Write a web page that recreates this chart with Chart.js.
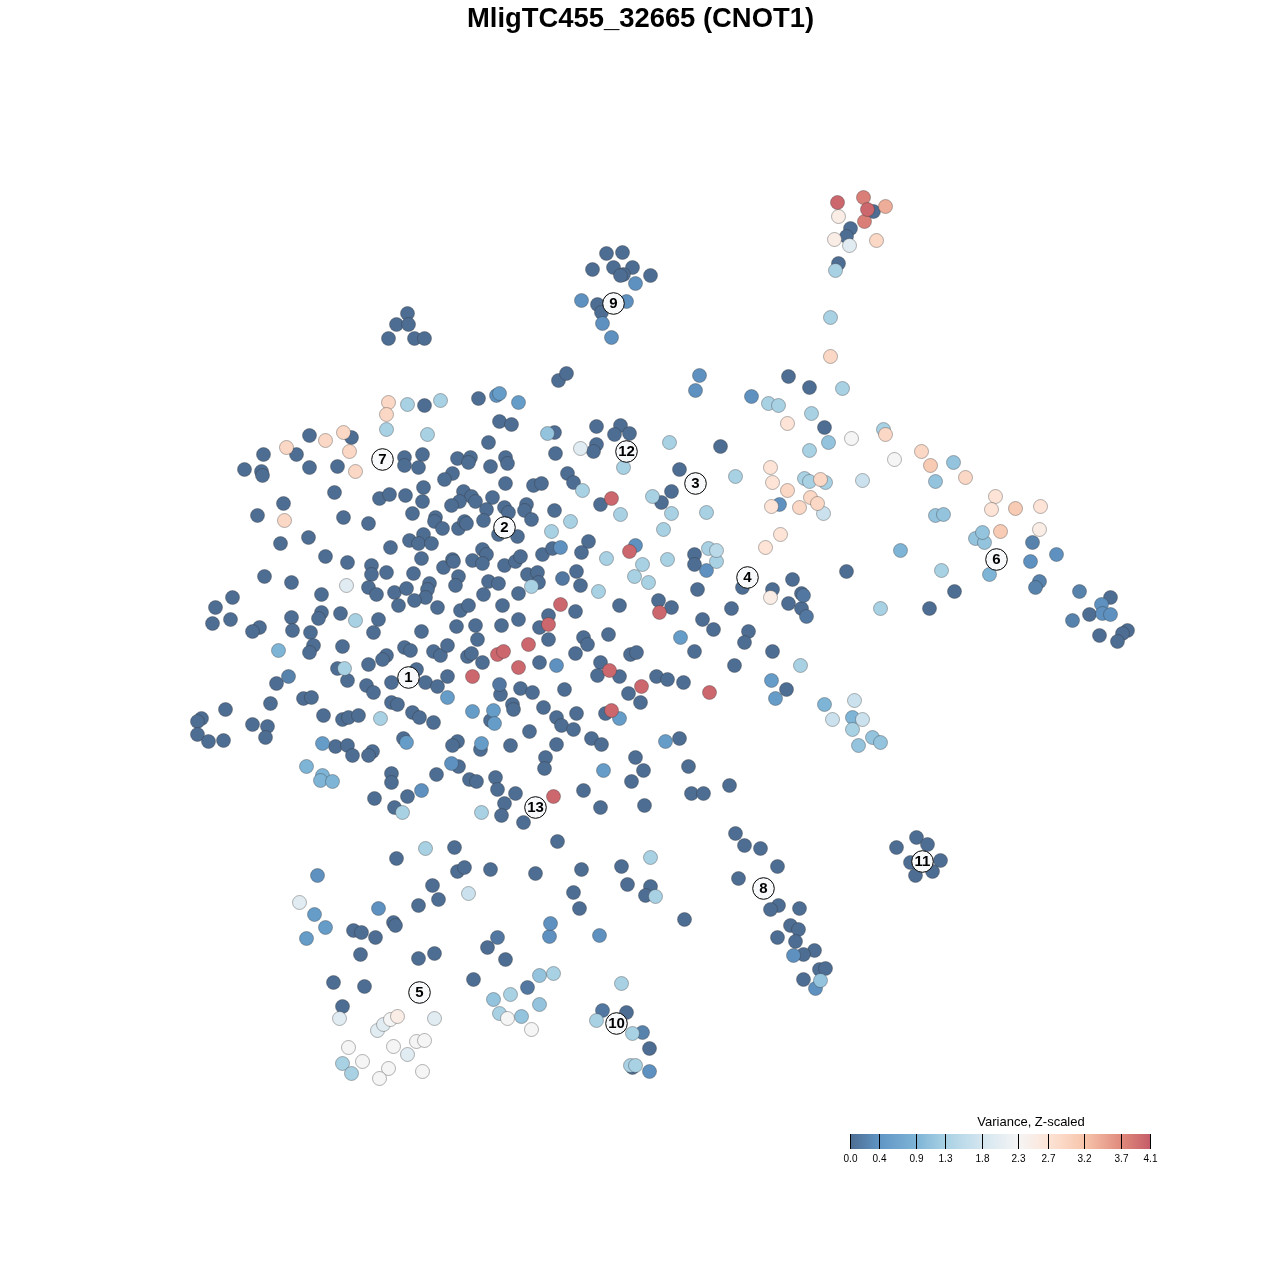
<!DOCTYPE html>
<html lang="en">
<head>
  <meta charset="UTF-8" />
  <title>MligTC455_32665 (CNOT1)</title>
  <script src="https://cdn.jsdelivr.net/npm/chart.js"></script>
  <style>
    html, body { margin: 0; padding: 0; background: #fff; }
    canvas { display: block; }
  </style>
</head>
<body>
  <canvas id="tsneChart" width="1280" height="1280"></canvas>

  <script>
    const chartTitle = 'MligTC455_32665 (CNOT1)';
    const legendTitle = 'Variance, Z-scaled';

    // legend ticks and colour ramp
    const legendTicks = [0.0, 0.4, 0.9, 1.3, 1.8, 2.3, 2.7, 3.2, 3.7, 4.1];
    const rampColors = ['#4d6d93', '#6096c5', '#7eb4d6', '#a9d1e4', '#d4e6f0', '#f5f5f5', '#fde4d7', '#f7c5ab', '#e08a7c', '#c55c69'];

    // cell positions, grouped by variance, lowest drawn first
    const var00 = [[407,313],[396,324],[408,324],[388,338],[414,338],[424,338],[606,253],[622,252],[592,269],[613,267],[632,267],[623,274],[620,275],[650,275],[597,304],[601,312],[558,380],[566,373],[873,211],[850,228],[846,236],[838,263],[788,376],[809,387],[824,427],
      [424,405],[478,398],[499,421],[511,424],[488,442],[309,435],[351,437],[296,454],[263,454],[244,469],[261,471],[262,475],[309,467],[337,466],[404,457],[404,465],[422,454],[418,467],[457,458],[470,457],[468,462],[490,466],[505,457],[507,463],[452,473],[444,479],[505,483],[334,492],[379,498],[389,494],[405,495],[423,487],[422,501],[463,491],[471,496],[459,501],[451,505],[475,501],[492,497],[504,507],[508,512],[486,509],[283,503],[257,515],[343,517],[368,523],[412,513],[435,517],[434,521],[442,528],[458,528],[464,521],[466,523],[483,520],[308,537],[280,543],[498,534],[409,540],[423,534],[418,543],[431,543],[390,547],[325,556],[347,562],[421,558],[371,565],[371,574],[386,572],[413,573],[443,567],[452,559],[453,561],[472,560],[482,549],[486,554],[482,563],[504,565],[264,576],[291,582],[458,576],[455,585],[488,581],[498,583],[368,587],[376,594],[394,592],[406,588],[429,583],[427,589],[425,597],[414,600],[398,605],[437,607],[483,594],[502,605],[460,610],[468,605],[321,594],[232,597],[215,607],[230,619],[212,623],[259,627],[252,631],[291,617],[292,630],[321,612],[318,618],[340,613],[378,619],[373,632],[310,632],[421,631],[456,626],[475,625],[501,625],[477,639],[313,645],[309,652],[342,646],[404,647],[410,650],[433,651],[440,655],[447,645],[386,655],[382,659],[467,656],[471,653],[482,662],[368,664],[337,668],[276,683],[347,680],[366,685],[373,692],[391,682],[416,669],[425,682],[437,686],[447,676],[500,694],[270,703],[303,698],[311,697],[225,709],[391,702],[397,704],[412,712],[419,717],[433,722],
      [554,432],[596,426],[620,425],[614,434],[629,433],[596,444],[593,451],[555,453],[720,446],[679,469],[533,485],[541,483],[567,473],[573,482],[526,504],[524,510],[554,510],[531,519],[517,536],[600,504],[671,491],[661,502],[515,561],[520,556],[542,554],[552,548],[588,541],[581,552],[694,554],[694,564],[527,574],[537,572],[538,582],[576,571],[580,585],[697,589],[742,587],[518,593],[575,611],[548,615],[539,627],[518,619],[548,639],[619,605],[658,600],[671,607],[702,619],[713,629],[731,608],[608,634],[583,637],[587,644],[575,653],[630,654],[636,652],[748,631],[744,642],[694,651],[734,665],[539,662],[600,662],[597,675],[619,676],[656,676],[667,679],[683,682],[520,688],[532,692],[564,689],[628,693],[640,702],[512,704],[513,709],[543,707],[556,717],[561,725],[576,713],[573,729],[529,731],[605,713],[490,720],
      [591,738],[601,744],[679,738],[556,744],[510,745],[480,749],[457,741],[452,745],[545,757],[544,768],[635,757],[643,770],[688,766],[631,781],[458,766],[469,779],[476,781],[495,777],[497,789],[515,793],[504,803],[501,815],[523,822],[583,790],[600,807],[644,805],[691,793],[703,793],[729,785],[557,841],[735,833],[744,845],[760,848],[454,847],[457,871],[464,867],[490,869],[535,873],[581,869],[621,866],
      [201,718],[197,721],[197,734],[208,741],[223,740],[252,724],[267,726],[265,737],[323,715],[342,719],[348,717],[358,715],[335,746],[347,745],[352,755],[372,751],[368,755],[403,738],[391,773],[391,782],[436,774],[407,796],[374,798],[394,807],[396,858],
      [353,930],[361,932],[375,937],[393,922],[395,925],[360,954],[418,905],[432,885],[438,899],[418,958],[434,953],[333,982],[364,986],[342,1006],[473,979],[487,947],[505,959],
      [573,892],[579,908],[627,884],[650,886],[645,895],[684,919],[738,878],[777,866],[778,905],[770,909],[799,908],[790,925],[798,929],[777,937],[795,941],[814,950],[803,954],[819,969],[825,968],[803,979],[626,1012],[649,1048],[632,1067],
      [954,591],[929,608],[846,571],[1110,597],[1089,614],[1099,635],[1127,630],[1122,633],[1117,641],[792,579],[772,589],[801,593],[788,603],[801,608],[772,651],[786,689],
      [896,847],[916,837],[927,844],[940,860],[910,862],[932,871],[915,875]];
    const var01 = [[499,684],[562,578],[803,595],[806,616],[527,987],[497,937],[602,1010]];
    const var02 = [[1032,542],[1039,581],[1035,587],[1079,591],[1072,620],[288,676],[642,1032]];
    const var035 = [[556,665],[560,547],[549,936],[550,923],[451,763],[421,790],[317,875],[378,908],[706,570],[1030,561],[1056,554],[1101,604],[1102,613],[1110,614],[635,545],[779,504],[695,390],[699,375],[751,396],[635,283],[581,300],[626,301],[602,323],[611,337],[649,1071],[815,988],[793,955],[599,935],[496,395]];
    const var05 = [[499,393],[518,402],[680,637],[406,742],[619,718],[603,770],[665,741],[314,914],[325,927],[306,938],[771,680],[775,698],[447,697],[472,711],[493,710],[494,723],[481,743],[322,743]];
    const var09 = [[278,650],[306,766],[322,775],[320,780],[332,781],[824,704],[852,717],[900,550],[989,574]];
    const var11 = [[547,433],[828,442],[935,481],[953,462],[935,515],[943,514],[975,538],[984,542],[982,532],[872,737],[880,742],[858,745],[493,999],[521,1016],[539,975],[539,1004],[820,980]];
    const var13 = [[407,404],[440,400],[386,429],[427,434],[355,620],[344,668],[380,718],[402,812],[481,812],[425,848],[582,490],[620,514],[623,467],[669,442],[735,476],[652,496],[671,513],[706,512],[663,529],[570,521],[551,531],[606,558],[708,548],[716,561],[642,564],[667,559],[634,576],[648,582],[598,591],[531,586],[842,388],[768,403],[778,405],[811,413],[883,429],[809,450],[804,478],[809,481],[825,482],[800,665],[852,729],[880,608],[941,570],[835,270],[830,317],[553,973],[510,994],[499,1013],[621,983],[596,1020],[632,1033],[630,1065],[635,1065],[342,1063],[351,1073],[650,857],[655,896]];
    const var15 = [[716,550]];
    const var17 = [[862,480],[823,513],[468,893],[854,700],[832,719],[862,719]];
    const var20 = [[580,448],[346,585],[434,1018],[377,1030],[383,1024],[407,1054],[339,1018],[299,902],[849,245]];
    const var23 = [[851,438],[894,459],[348,1047],[393,1046],[416,1041],[424,1040],[362,1061],[388,1068],[379,1078],[422,1071],[507,1018],[531,1029],[390,1019]];
    const var25 = [[397,1016],[1039,529],[838,216],[834,239],[770,597]];
    const var27 = [[787,423],[771,506],[780,534],[765,547],[995,496],[991,509],[1040,506],[770,467],[772,482]];
    const var29 = [[388,402],[386,414],[325,440],[343,432],[286,447],[349,451],[355,471],[284,520],[830,356],[885,434],[921,451],[965,477],[787,490],[820,479],[810,497],[817,503],[799,507],[876,240]];
    const var31 = [[930,465],[1015,508],[1000,531]];
    const var34 = [[885,206]];
    const var38 = [[863,197],[864,221]];
    const var40 = [[837,202],[867,209],[497,654],[503,651],[472,676],[518,667],[528,644],[548,624],[560,604],[611,498],[629,551],[659,612],[609,670],[641,686],[709,692],[611,710],[553,796]];

    const varianceLevels = [0.0, 0.1, 0.2, 0.35, 0.5, 0.9, 1.1, 1.3, 1.5, 1.7, 2.0, 2.3, 2.5, 2.7, 2.9, 3.1, 3.4, 3.8, 4.0];
    const levelPoints = [var00, var01, var02, var035, var05, var09, var11, var13, var15, var17, var20, var23, var25, var27, var29, var31, var34, var38, var40];

    // numbered cluster labels
    const clusterNames = ['1','2','3','4','5','6','7','8','9','10','11','12','13'];
    const clusterX = [408,504,695,747,419,996,382,763,613,616,922,626,535];
    const clusterY = [677,527,483,577,992,559,459,888,303,1023,861,451,807];

    function hexToRgb(hex) {
      return [1, 3, 5].map(i => parseInt(hex.substr(i, 2), 16));
    }

    function varianceColor(v) {
      let i = 0;
      while (i < legendTicks.length - 2 && v > legendTicks[i + 1]) i++;
      const t = (v - legendTicks[i]) / (legendTicks[i + 1] - legendTicks[i]);
      const a = hexToRgb(rampColors[i]);
      const b = hexToRgb(rampColors[i + 1]);
      const c = a.map((val, k) => Math.round(val + (b[k] - val) * t));
      return `rgb(${c[0]},${c[1]},${c[2]})`;
    }

    const datasets = levelPoints.map((pts, i) => ({
      data: pts.map(p => ({ x: p[0], y: p[1] })),
      backgroundColor: varianceColor(varianceLevels[i]),
      borderColor: 'rgba(50,50,50,0.36)',
      borderWidth: 1,
      pointRadius: 7,
      order: 100 - i // first dataset would sit on top otherwise
    }));

    datasets.push({
      data: clusterX.map((x, i) => ({ x: x, y: clusterY[i] })),
      backgroundColor: '#f7f9fb',
      borderColor: '#000',
      borderWidth: 1,
      pointRadius: 10.8,
      order: 0
    });

    const textPlugin = {
      id: 'textPlugin',
      afterDraw(chart) {
        const ctx = chart.ctx;
        const xs = chart.scales.x;
        const ys = chart.scales.y;
        ctx.save();
        ctx.textAlign = 'center';
        ctx.textBaseline = 'middle';
        ctx.fillStyle = '#000';

        // title
        ctx.font = 'bold 27.4px "Liberation Sans", Arial, sans-serif';
        ctx.fillText(chartTitle, 640.5, 19);

        // cluster numbers
        ctx.font = 'bold 15px "Liberation Sans", Arial, sans-serif';
        clusterNames.forEach((name, i) => {
          ctx.fillText(name, xs.getPixelForValue(clusterX[i]), ys.getPixelForValue(clusterY[i]) + 0.5);
        });

        // colour key
        const left = 850.5, right = 1150.5, top = 1134, bottom = 1149;
        const maxTick = legendTicks[legendTicks.length - 1];
        const tickX = v => left + (right - left) * v / maxTick;
        const grad = ctx.createLinearGradient(left, 0, right, 0);
        legendTicks.forEach((v, i) => grad.addColorStop(v / maxTick, rampColors[i]));
        ctx.fillStyle = grad;
        ctx.fillRect(left, top, right - left, bottom - top);

        ctx.strokeStyle = '#000';
        ctx.lineWidth = 1;
        ctx.fillStyle = '#000';
        ctx.font = '10px "Liberation Sans", Arial, sans-serif';
        legendTicks.forEach(v => {
          const x = Math.round(tickX(v) - 0.5) + 0.5;
          ctx.beginPath();
          ctx.moveTo(x, top);
          ctx.lineTo(x, bottom);
          ctx.stroke();
          ctx.fillText(v.toFixed(1), x, 1159);
        });
        ctx.font = '13px "Liberation Sans", Arial, sans-serif';
        ctx.fillText(legendTitle, 1031, 1122);
        ctx.restore();
      }
    };

    new Chart(document.getElementById('tsneChart').getContext('2d'), {
      type: 'scatter',
      data: { datasets: datasets },
      options: {
        responsive: false,
        animation: false,
        layout: { padding: 0, autoPadding: false }, // keep the plot on the whole canvas
        plugins: { legend: { display: false }, title: { display: false }, tooltip: { enabled: false } },
        scales: {
          x: { type: 'linear', display: false, min: -0.5, max: 1279.5 },
          y: { type: 'linear', display: false, min: -0.5, max: 1279.5, reverse: true }
        }
      },
      plugins: [textPlugin]
    });
  </script>
</body>
</html>
